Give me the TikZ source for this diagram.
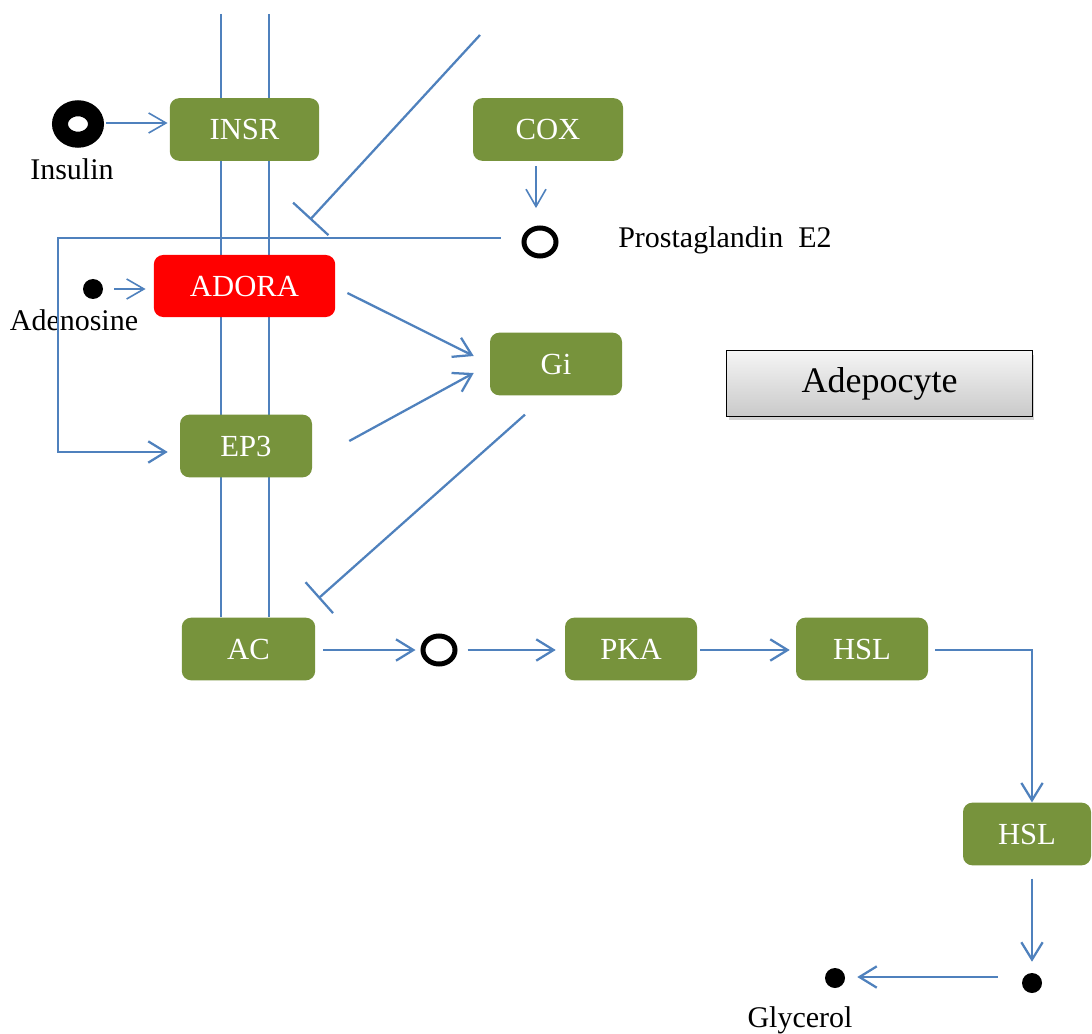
\documentclass[tikz,border=0pt]{standalone}
\usepackage{fontspec}
\setmainfont{Liberation Serif}
\usetikzlibrary{arrows.meta,calc,shadows,shapes.geometric,backgrounds}
\definecolor{olivebox}{HTML}{77933C}
\definecolor{linkblue}{HTML}{4F81BD}
\begin{document}
\begin{tikzpicture}[x=0.75pt,y=-0.75pt,
  box/.style={rectangle, rounded corners=7pt, fill=olivebox, text=white,
    font=\fontsize{23}{26}\selectfont, minimum height=47pt, inner sep=0pt},
  lbl/.style={font=\fontsize{22.5}{27}\selectfont, inner sep=0pt},
  link/.style={draw=linkblue, line width=1.7pt},
  thinlink/.style={draw=linkblue, line width=1.2pt},
  act/.style={link, -{Straight Barb[length=13pt,width=16pt]}},
  thinact/.style={thinlink, -{Straight Barb[length=13pt,width=15pt]}},
  inh/.style={link, -{Bar[width=#1]}},
  ring/.style={ellipse, draw=black, line width=3.75pt, inner sep=0pt,
    minimum width=24pt, minimum height=21pt},
  dot/.style={circle, fill=black, inner sep=0pt, minimum size=15pt}]
\useasboundingbox (0,0) rectangle (1092,1034);

% receptors and enzymes
\node[box, minimum width=112pt] (INSR) at (244.5,129.5) {INSR};
\node[box, minimum width=112.5pt] (COX) at (548,129.5) {COX};
\node[box, fill=red, minimum width=136pt, minimum height=46.5pt] (ADORA) at (244.5,286) {ADORA};
\node[box, minimum width=99pt] (Gi) at (556,364) {Gi};
\node[box, minimum width=99pt] (EP3) at (246,446) {EP3};
\node[box, minimum width=100pt] (AC) at (248.5,649) {AC};
\node[box, minimum width=99pt] (PKA) at (631,649) {PKA};
\node[box, minimum width=99pt] (HSLa) at (862,649) {HSL};
\node[box, minimum width=96pt] (HSLb) at (1027,834) {HSL};

% cell label
\node[rectangle, draw=black, line width=0.9pt, top color=gray!8, bottom color=gray!42,
  minimum width=229pt, minimum height=49pt, inner sep=0pt,
  font=\fontsize{27}{32}\selectfont,
  drop shadow={shadow xshift=1.5pt, shadow yshift=-3pt, opacity=0.35}]
  (cell) at (879.5,383.5) {Adepocyte};

% ligands and metabolites
\node[ellipse, draw=black, line width=12pt, inner sep=0pt,
  minimum width=27pt, minimum height=23.6pt] (insulin) at (78,124) {};
\node[dot] (adenosine) at (93,289) {};
\node[ring] (pge) at (540,242) {};
\node[ring] (camp) at (439,650) {};
\node[dot] (fa) at (1032,983) {};
\node[dot] (glycerol) at (835,978) {};

% names
\node[lbl, anchor=base] (insulinname) at (72,180) {Insulin};
\node[lbl, anchor=base] (adenosinename) at (74,330) {Adenosine};
\node[lbl, anchor=base west] (pgename) at (618,248) {Prostaglandin\hspace{0.5em}E2};
\node[lbl, anchor=base] (glycerolname) at (800,1027) {Glycerol};

% membrane
\begin{scope}[on background layer]
  \coordinate (m1) at (221,14);
  \coordinate (m2) at (269,14);
  \draw[link] (m1) -- (m1 |- AC.north);
  \draw[link] (m2) -- (m2 |- AC.north);
\end{scope}

% signalling
\draw[thinact] ($(insulin.east)+(2,-1)$) -- ($(insulin.east -| INSR.west)+(-2,-1)$);
\draw[thinact] ($(adenosine.east)+(11,0)$) -- ($(adenosine.east -| ADORA.west)+(-8,0)$);
\draw[thinact] ($(COX.south)+(-12,5)$) -- ($(COX.south)+(-12,47)$);
\coordinate (loop) at (58,238);
\draw[act] ($(pge.west)+(-21,-4)$) -- (loop) |- ($(EP3.west)+(-12,6)$);
\coordinate (ext) at (480,35);
\draw[inh=36pt] (ext) -- ($(ADORA.north)+(65.5,-35)$);
\draw[act] ($(ADORA.east)+(12,7)$) -- ($(Gi.west)+(-16,-8)$);
\draw[act] ($(EP3.east)+(37,-5)$) -- ($(Gi.west)+(-16,9)$);
\draw[inh=31pt] ($(Gi.south)+(-31,19)$) -- ($(AC.north east)+(3,-19)$);
\draw[act] ($(AC.east)+(8,1)$) -- ($(camp.west)+(-5,0)$);
\draw[act] ($(camp.east)+(10,0)$) -- ($(PKA.west)+(-9,1)$);
\draw[act] ($(PKA.east)+(3,1)$) -- ($(HSLa.west)+(-6,1)$);
\draw[act] ($(HSLa.east)+(7,1)$) -| ($(HSLb.north)+(5,0)$);
\draw[act] ($(HSLb.south)+(5,13)$) -- ($(fa.north)+(0,-11)$);
\draw[act] ($(fa.west)+(-24,-6)$) -- ($(glycerol.east)+(12,-1)$);
\end{tikzpicture}
\end{document}
